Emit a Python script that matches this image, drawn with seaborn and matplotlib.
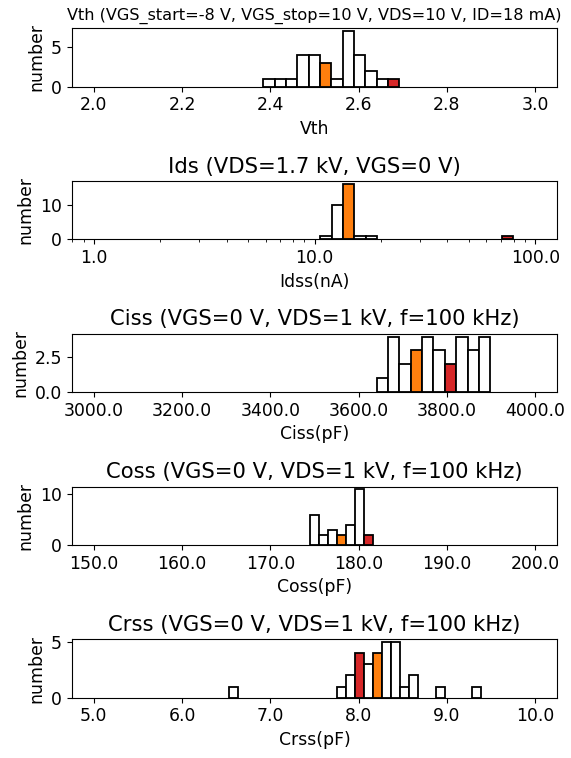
import numpy as np
import pandas as pd
import matplotlib
matplotlib.use("Agg")
import matplotlib.pyplot as plt
from matplotlib.ticker import FormatStrFormatter, MultipleLocator
import seaborn as sns

# ---- data ----
vth_counts = [1, 1, 1, 4, 4, 3, 1, 7, 4, 2, 1, 1]
vth_range = (2.384, 2.692)
vth_orange, vth_red = 5, 11

ids_counts = [1, 10, 16, 1, 1, 0, 0, 0, 0, 0, 0, 0, 0, 0, 0, 0, 1]
ids_range = (10.61, 79.2)          # nA, log-spaced bins
ids_orange, ids_red = 2, 16

ciss_counts = [1, 4, 2, 3, 4, 3, 2, 4, 3, 4]
ciss_range = (3641.0, 3898.0)
ciss_orange, ciss_red = 3, 6

coss_counts = [6, 2, 3, 2, 4, 11, 2]
coss_range = (174.45, 181.58)
coss_orange, coss_red = 3, 6

crss_counts = [1, 0, 0, 0, 0, 0, 0, 0, 0, 0, 0, 0, 1, 2, 4, 3, 4, 5, 5, 1,
               2, 0, 0, 1, 0, 0, 0, 1]
crss_range = (6.5325, 9.385)
crss_orange, crss_red = 16, 14

titles = ["Vth (VGS_start=-8 V, VGS_stop=10 V, VDS=10 V, ID=18 mA)",
          "Ids (VDS=1.7 kV, VGS=0 V)",
          "Ciss (VGS=0 V, VDS=1 kV, f=100 kHz)",
          "Coss (VGS=0 V, VDS=1 kV, f=100 kHz)",
          "Crss (VGS=0 V, VDS=1 kV, f=100 kHz)"]
xlabels = ["Vth", "Idss(nA)", "Ciss(pF)", "Coss(pF)", "Crss(pF)"]

ORANGE = "#ff7f0e"
RED = "#d62728"
FS = 12.4

fig, axes = plt.subplots(5, 1, figsize=(5.71, 7.58), dpi=100)
fig.subplots_adjust(left=0.1256, right=0.976, top=0.9627, bottom=0.0796,
                    hspace=1.62)

def draw(ax, counts, rng, io, ir, log=False):
    n = len(counts)
    if log:
        edges_log = np.linspace(np.log10(rng[0]), np.log10(rng[1]), n + 1)
        centers = 10 ** ((edges_log[:-1] + edges_log[1:]) / 2)
        df = pd.DataFrame({"x": centers, "w": counts})
        sns.histplot(data=df, x="x", weights="w", bins=edges_log.tolist(),
                     log_scale=True,
                     color="white", edgecolor="black", linewidth=1.3,
                     alpha=1, ax=ax)
    else:
        edges = np.linspace(rng[0], rng[1], n + 1)
        centers = (edges[:-1] + edges[1:]) / 2
        df = pd.DataFrame({"x": centers, "w": counts})
        sns.histplot(data=df, x="x", weights="w", bins=edges.tolist(),
                     color="white", edgecolor="black", linewidth=1.3,
                     alpha=1, ax=ax)
    patches = ax.patches
    for p, c in zip(patches, counts):
        if c == 0:
            p.set_visible(False)
    patches[io].set_facecolor(ORANGE)
    patches[ir].set_facecolor(RED)
    ax.set_ylabel("number", fontsize=FS)

draw(axes[0], vth_counts, vth_range, vth_orange, vth_red)
draw(axes[1], ids_counts, ids_range, ids_orange, ids_red, log=True)
draw(axes[2], ciss_counts, ciss_range, ciss_orange, ciss_red)
draw(axes[3], coss_counts, coss_range, coss_orange, coss_red)
draw(axes[4], crss_counts, crss_range, crss_orange, crss_red)

axes[0].set_xlim(1.95, 3.05)
axes[0].xaxis.set_major_locator(MultipleLocator(0.2))
axes[1].set_xlim(10 ** -0.1, 10 ** 2.1)
axes[2].set_xlim(2950, 4050)
axes[2].xaxis.set_major_locator(MultipleLocator(200))
axes[3].set_xlim(147.5, 202.5)
axes[3].xaxis.set_major_locator(MultipleLocator(10))
axes[4].set_xlim(4.75, 10.25)
axes[4].xaxis.set_major_locator(MultipleLocator(1.0))

for i, ax in enumerate(axes):
    ax.xaxis.set_major_formatter(FormatStrFormatter("%.1f"))
    ax.set_xlabel(xlabels[i], fontsize=FS)
    ax.tick_params(labelsize=FS)
    ax.set_title(titles[i], fontsize=11.6 if i == 0 else 15.2)

fig.savefig("out.png", dpi=100)
